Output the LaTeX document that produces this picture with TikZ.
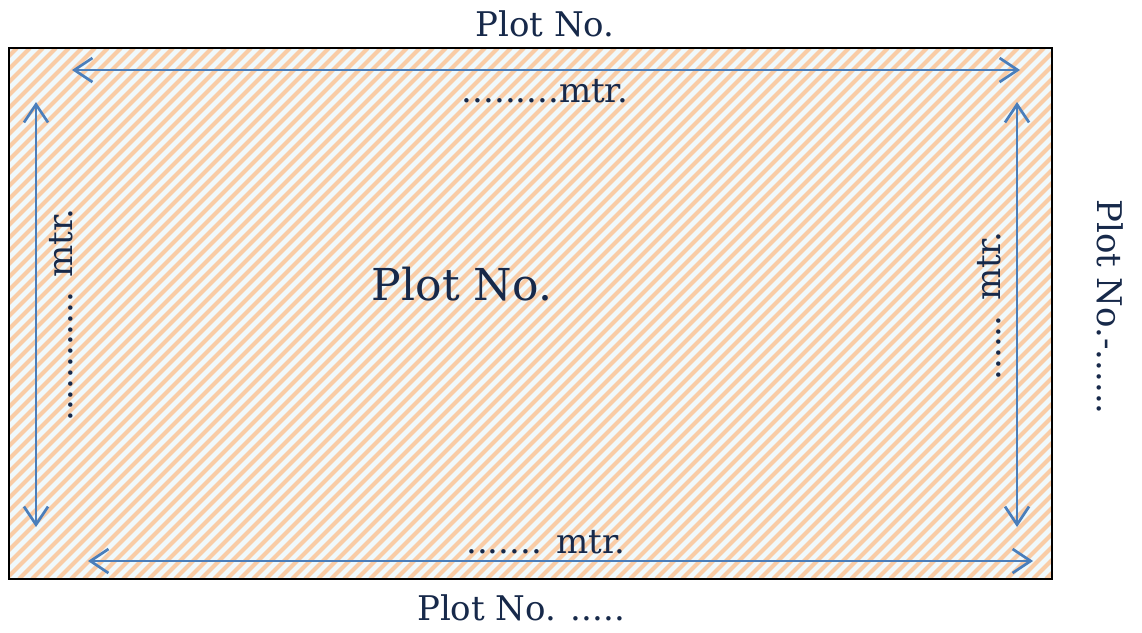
\documentclass[tikz,border=0pt]{standalone}
\usepackage{fontspec}
\setmainfont{DejaVu Serif}
\usetikzlibrary{arrows.meta}

\definecolor{plotnavy}{HTML}{17294A}
\definecolor{dimblue}{HTML}{4A7EBB}
\definecolor{hatchorange}{HTML}{F9CCA6}
\definecolor{hatchblue}{HTML}{F0F9FC}

\begin{document}
\begin{tikzpicture}[
            x = 1pt, y = -1pt, % pixel units, y going down
            > = {Straight Barb[length=18pt, width=24pt]}, % arrow head style
            semithick % line style
        ]

        \tikzstyle{dim arrow}=[
            <->,
            draw = dimblue,
            line width = 2.7pt
        ]
        \tikzstyle{plot text}=[
            text = plotnavy,
            font = \fontsize{34}{40}\selectfont,
            anchor = base,
            inner sep = 0pt
        ]

        \useasboundingbox (0,0) rectangle (1142,632);

        % the plot
        \coordinate (p1) at (9,48);
        \coordinate (p2) at (1052,579);
        \begin{scope}
            \clip (p1) rectangle (p2);
            \fill[hatchblue] (p1) rectangle (p2);
            \foreach \c in {-540,-527,...,1065}
                \draw[hatchorange, line width = 4.2pt] (\c,579) -- ++(531,-531);
        \end{scope}
        \draw[black, line width = 2pt] (p1) rectangle (p2);

        % dimension arrows
        \coordinate (t1) at (72,70);
        \coordinate (t2) at (1020,70);
        \coordinate (b1) at (88,561);
        \coordinate (b2) at (1033,561);
        \coordinate (l1) at (36,102);
        \coordinate (l2) at (36,527);
        \coordinate (r1) at (1017,102);
        \coordinate (r2) at (1017,527);

        \draw[dim arrow] (t1) -- (t2);
        \draw[dim arrow] (b1) -- (b2);
        \draw[dim arrow] (l1) -- (l2);
        \draw[dim arrow] (r1) -- (r2);

        % texts
        \node[plot text] (north) at (545,36) {Plot No.};
        \node[plot text] (topdim) at (545,102) {.........mtr.};
        \node[plot text] (botdim) at (546,553) {....... mtr.};
        \node[plot text] (south) at (521,620) {Plot No. .....};
        \node[plot text, rotate = 90] (leftdim) at (72,315) {............ mtr.};
        \node[plot text, rotate = 90] (rightdim) at (1000,306) {...... mtr.};
        \node[plot text, rotate = -90] (east) at (1097,307) {Plot No.-......};
        \node[plot text, font = \fontsize{44}{50}\selectfont] (plot) at (462,300) {Plot No.};

    \end{tikzpicture}
\end{document}
